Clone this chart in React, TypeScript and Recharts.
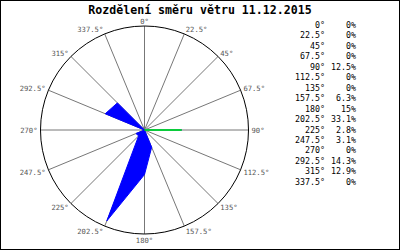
import React from 'react';
import { RadarChart, Radar, PolarGrid, PolarAngleAxis, PolarRadiusAxis } from 'recharts';

const directions = [0, 22.5, 45, 67.5, 90, 112.5, 135, 157.5, 180, 202.5, 225, 247.5, 270, 292.5, 315, 337.5];
const shares = [0, 0, 0, 0, 12.5, 0, 0, 6.3, 15, 33.1, 2.8, 3.1, 0, 14.3, 12.9, 0];
const shareLabels = ['0%', '0%', '0%', '0%', '12.5%', '0%', '0%', '6.3%', '15%', '33.1%', '2.8%', '3.1%', '0%', '14.3%', '12.9%', '0%'];
const title = 'Rozdělení směru větru 11.12.2015';

const n = shares.length;
const data = directions.map((angle, i) => {
  const prev = shares[(i - 1 + n) % n];
  const next = shares[(i + 1) % n];
  return {
    angle,
    value: shares[i],
    spike: prev === 0 && next === 0 ? shares[i] : 0,
  };
});

const MONO = '"DejaVu Sans Mono", "Liberation Mono", monospace';
const CX = 144.5;
const CY = 130;
const R = 104;

const AngleTick = (props: any) => {
  const { payload } = props;
  const cx = props.cx ?? CX;
  const cy = props.cy ?? CY;
  const r = props.radius ?? R;
  const a = (Number(payload.value) * Math.PI) / 180;
  const s = Math.sin(a);
  const c = Math.cos(a);
  const px = cx + r * s;
  const py = cy - r * c;
  let anchor: 'start' | 'end' | 'middle' = 'middle';
  let dx = 0;
  if (s > 0.01) {
    anchor = 'start';
    dx = 0.5 + 2.5 * s;
  } else if (s < -0.01) {
    anchor = 'end';
    dx = -0.5 + 2.5 * s;
  }
  const dy = -5.5 * c + 0.5;
  return (
    <text
      x={px + dx}
      y={py + dy}
      textAnchor={anchor}
      dominantBaseline="central"
      fontFamily={MONO}
      fontSize={7.2}
      fill="#555"
    >
      {`${payload.value}°`}
    </text>
  );
};

export default function App() {
  return (
    <div
      style={{
        position: 'fixed',
        left: 0,
        top: 0,
        width: 400,
        height: 250,
        boxSizing: 'border-box',
        border: '1px solid #000',
        background: '#fff',
      }}
    >
      <div
        style={{
          position: 'absolute',
          left: 0,
          top: 2,
          width: 398,
          textAlign: 'center',
          fontFamily: MONO,
          fontWeight: 'bold',
          fontSize: 11.6,
          lineHeight: '14px',
          color: '#000',
        }}
      >
        {title}
      </div>
      <div style={{ position: 'absolute', left: -1, top: -1 }}>
        <RadarChart
          width={400}
          height={250}
          data={data}
          cx={CX}
          cy={CY}
          outerRadius={R}
          startAngle={90}
          endAngle={-270}
          margin={{ top: 0, right: 0, bottom: 0, left: 0 }}
        >
          <PolarGrid gridType="circle" stroke="#777" polarRadius={[0]} />
          <PolarRadiusAxis domain={[0, 35]} tick={false} axisLine={false} />
          <PolarAngleAxis
            dataKey="angle"
            tickSize={0}
            tickLine={false}
            axisLineType="circle"
            axisLine={{ stroke: '#000', strokeWidth: 1 }}
            tick={<AngleTick />}
          />
          <Radar
            dataKey="value"
            stroke="#0000ff"
            strokeWidth={1}
            fill="#0000ff"
            fillOpacity={1}
            isAnimationActive={false}
            dot={false}
          />
          <Radar
            dataKey="spike"
            stroke="#00ff00"
            strokeWidth={1}
            fill="none"
            fillOpacity={0}
            isAnimationActive={false}
            dot={false}
          />
        </RadarChart>
      </div>
      {directions.map((d, i) => (
        <React.Fragment key={d}>
          <div
            style={{
              position: 'absolute',
              right: 400 - 326,
              top: 24 + i * 10.45 - 6,
              lineHeight: '12px',
              fontFamily: MONO,
              fontSize: 8.3,
              color: '#000',
              whiteSpace: 'nowrap',
            }}
          >
            {`${d}°`}
          </div>
          <div
            style={{
              position: 'absolute',
              right: 400 - 357,
              top: 24 + i * 10.45 - 6,
              lineHeight: '12px',
              fontFamily: MONO,
              fontSize: 8.3,
              color: '#000',
              whiteSpace: 'nowrap',
            }}
          >
            {shareLabels[i]}
          </div>
        </React.Fragment>
      ))}
    </div>
  );
}
